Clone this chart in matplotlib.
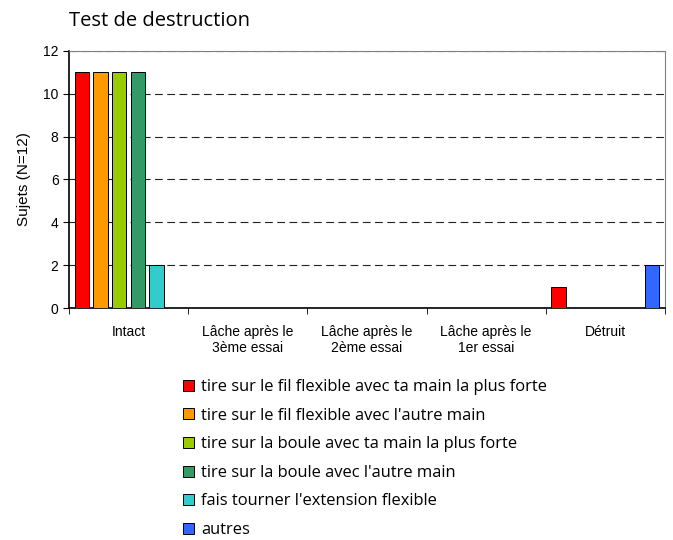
import matplotlib.pyplot as plt
import numpy as np

categories = ['Intact', 'Lâche après le\n3ème essai', 'Lâche après le\n2ème essai',
              'Lâche après le\n1er essai', 'Détruit']
series = ['tire sur le fil flexible avec ta main la plus forte',
          "tire sur le fil flexible avec l'autre main",
          'tire sur la boule avec ta main la plus forte',
          "tire sur la boule avec l'autre main",
          "fais tourner l'extension flexible",
          'autres']
values = [
    [11, 0, 0, 0, 1],
    [11, 0, 0, 0, 0],
    [11, 0, 0, 0, 0],
    [11, 0, 0, 0, 0],
    [2, 0, 0, 0, 0],
    [0, 0, 0, 0, 2],
]
colors = ['#FF0000', '#FF9900', '#99CC00', '#339966', '#33CCCC', '#3366FF']

fig = plt.figure(figsize=(6.73, 5.40), dpi=100)
ax = fig.add_axes([0.1025, 0.4296, 0.8855, 0.476])

x = np.arange(len(categories))
pitch = 0.157
width = 0.122
handles = []
for i, (name, vals, c) in enumerate(zip(series, values, colors)):
    b = ax.bar(x + (i - 2.5) * pitch, vals, width, color=c, edgecolor='black',
               linewidth=0.7, label=name, zorder=3)
    handles.append(b)

ax.set_xlim(-0.5, len(categories) - 0.5)
ax.set_ylim(0, 12)
ax.set_yticks(range(0, 13, 2))
ax.yaxis.grid(True, linestyle=(0, (7, 4)), color='#222222', linewidth=0.8, zorder=0)
ax.set_axisbelow(True)

ax.set_xticks(x)
ax.set_xticklabels(categories, fontfamily='Liberation Sans', fontsize=10)
ax.set_xticks(np.arange(-0.5, len(categories), 1), minor=True)
ax.tick_params(axis='x', which='major', length=0, pad=12)
ax.tick_params(axis='x', which='minor', length=4, direction='out')
ax.tick_params(axis='y', length=4, labelsize=10)
for lab in ax.get_yticklabels():
    lab.set_fontfamily('Liberation Sans')

ax.spines['top'].set_color('#808080')
ax.spines['right'].set_color('#808080')
ax.spines['left'].set_linewidth(1.2)
ax.spines['bottom'].set_linewidth(1.2)

ax.set_ylabel('Sujets (N=12)', fontfamily='Liberation Sans', fontsize=11, labelpad=9)
fig.text(0.103, 0.962, 'Test de destruction', fontfamily='Open Sans', fontsize=14.5,
         va='center', ha='left')

leg = fig.legend(handles=handles, labels=series, loc='upper left',
                 bbox_to_anchor=(0.262, 0.31), frameon=False,
                 prop={'family': 'Open Sans', 'size': 11.9},
                 handlelength=0.65, handleheight=0.65, handletextpad=0.45,
                 labelspacing=0.76, borderaxespad=0)

fig.savefig('out.png', dpi=100)
